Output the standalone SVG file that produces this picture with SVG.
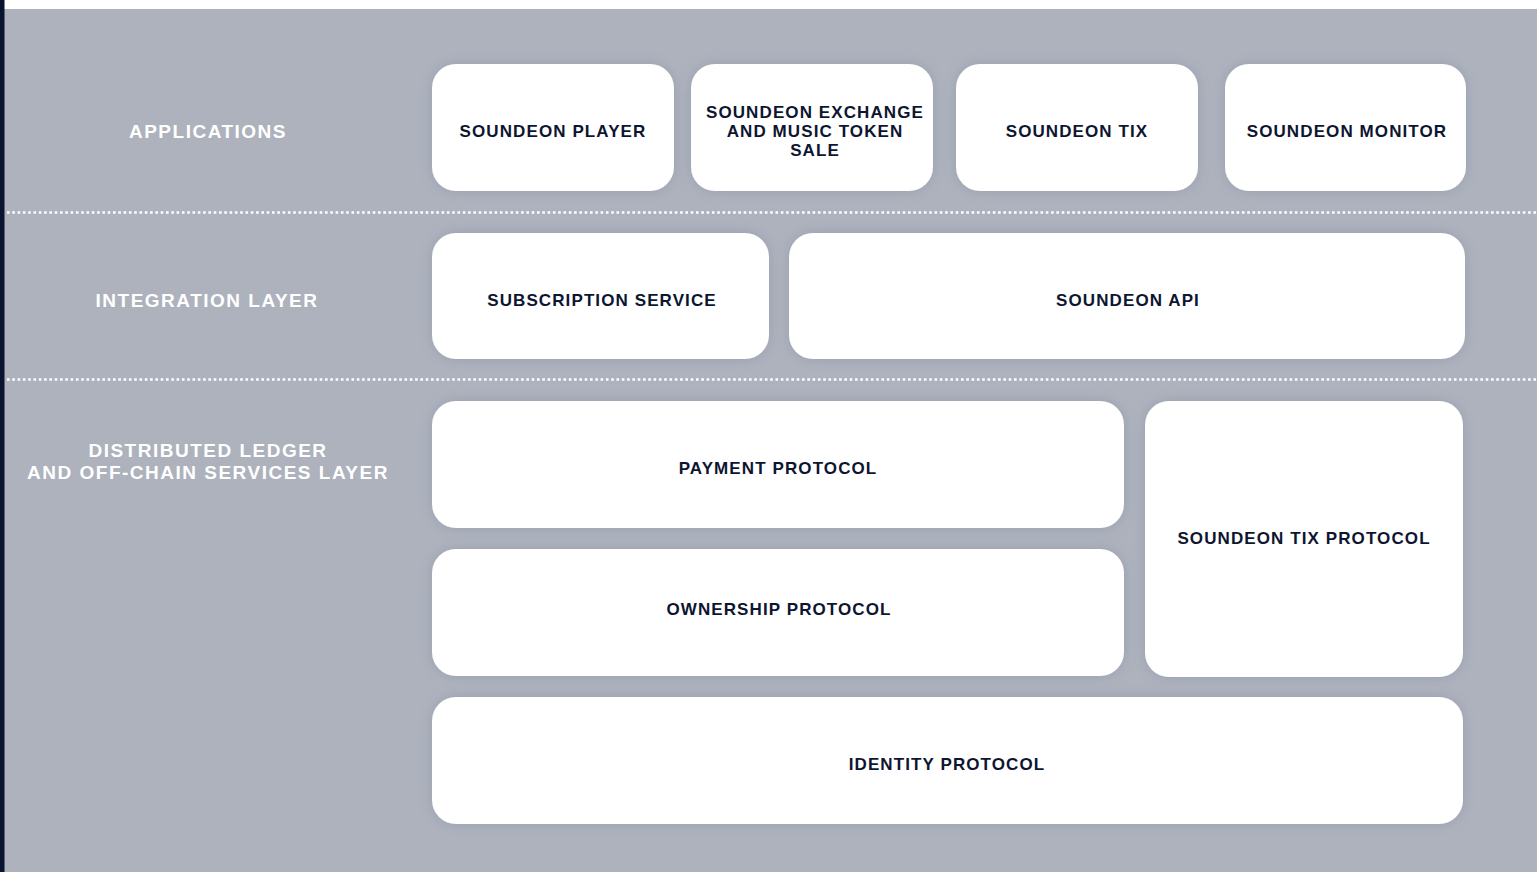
<svg xmlns="http://www.w3.org/2000/svg" width="1537" height="872" viewBox="0 0 1537 872">
<style>
.node rect{fill:#ffffff;filter:url(#sh)}
.node text{font-family:"Liberation Sans",Arial,sans-serif;font-weight:700;font-size:17px;letter-spacing:1.1px;fill:#0d1530;text-anchor:middle}
.lbl{font-family:"Liberation Sans",Arial,sans-serif;font-weight:700;font-size:19px;letter-spacing:1.5px;fill:#ffffff;text-anchor:middle}
.sep{stroke:#ffffff;stroke-width:2.5;stroke-dasharray:2.6 2.7;fill:none}
</style>
<defs>
<filter id="sh" x="-10%" y="-20%" width="120%" height="140%">
<feDropShadow dx="0" dy="0" stdDeviation="6" flood-color="#6f7a8f" flood-opacity="0.35"/>
</filter>
</defs>
<rect x="0" y="0" width="1537" height="872" fill="#ffffff"/>
<rect x="0" y="9" width="1537" height="863" fill="#adb2bd"/>
<rect x="0" y="0" width="4.5" height="872" fill="#0a1430"/>
<g id="labels">
<text class="lbl" x="208" y="138">APPLICATIONS</text>
<text class="lbl" x="207" y="307">INTEGRATION LAYER</text>
<text class="lbl" x="208" y="457">DISTRIBUTED LEDGER</text>
<text class="lbl" x="208" y="479">AND OFF-CHAIN SERVICES LAYER</text>
</g>
<g id="separators">
<line class="sep" x1="7" y1="212.5" x2="1537" y2="212.5"/>
<line class="sep" x1="7" y1="379.5" x2="1537" y2="379.5"/>
</g>
<g id="player" class="node"><rect x="432" y="64" width="242" height="127" rx="24"/><text x="553" y="137">SOUNDEON PLAYER</text></g>
<g id="exchange" class="node"><rect x="691" y="64" width="242" height="127" rx="24"/><text x="815" y="118">SOUNDEON EXCHANGE</text><text x="815" y="137">AND MUSIC TOKEN</text><text x="815" y="156">SALE</text></g>
<g id="tix" class="node"><rect x="956" y="64" width="242" height="127" rx="24"/><text x="1077" y="137">SOUNDEON TIX</text></g>
<g id="monitor" class="node"><rect x="1225" y="64" width="241" height="127" rx="24"/><text x="1347" y="137">SOUNDEON MONITOR</text></g>
<g id="subscription" class="node"><rect x="432" y="233" width="337" height="126" rx="24"/><text x="602" y="306">SUBSCRIPTION SERVICE</text></g>
<g id="api" class="node"><rect x="789" y="233" width="676" height="126" rx="24"/><text x="1128" y="306">SOUNDEON API</text></g>
<g id="payment" class="node"><rect x="432" y="401" width="692" height="127" rx="24"/><text x="778" y="474">PAYMENT PROTOCOL</text></g>
<g id="ownership" class="node"><rect x="432" y="549" width="692" height="127" rx="24"/><text x="779" y="615">OWNERSHIP PROTOCOL</text></g>
<g id="tixprotocol" class="node"><rect x="1145" y="401" width="318" height="276" rx="24"/><text x="1304" y="544">SOUNDEON TIX PROTOCOL</text></g>
<g id="identity" class="node"><rect x="432" y="697" width="1031" height="127" rx="24"/><text x="947" y="770">IDENTITY PROTOCOL</text></g>
<g id="connectors"></g>
</svg>
